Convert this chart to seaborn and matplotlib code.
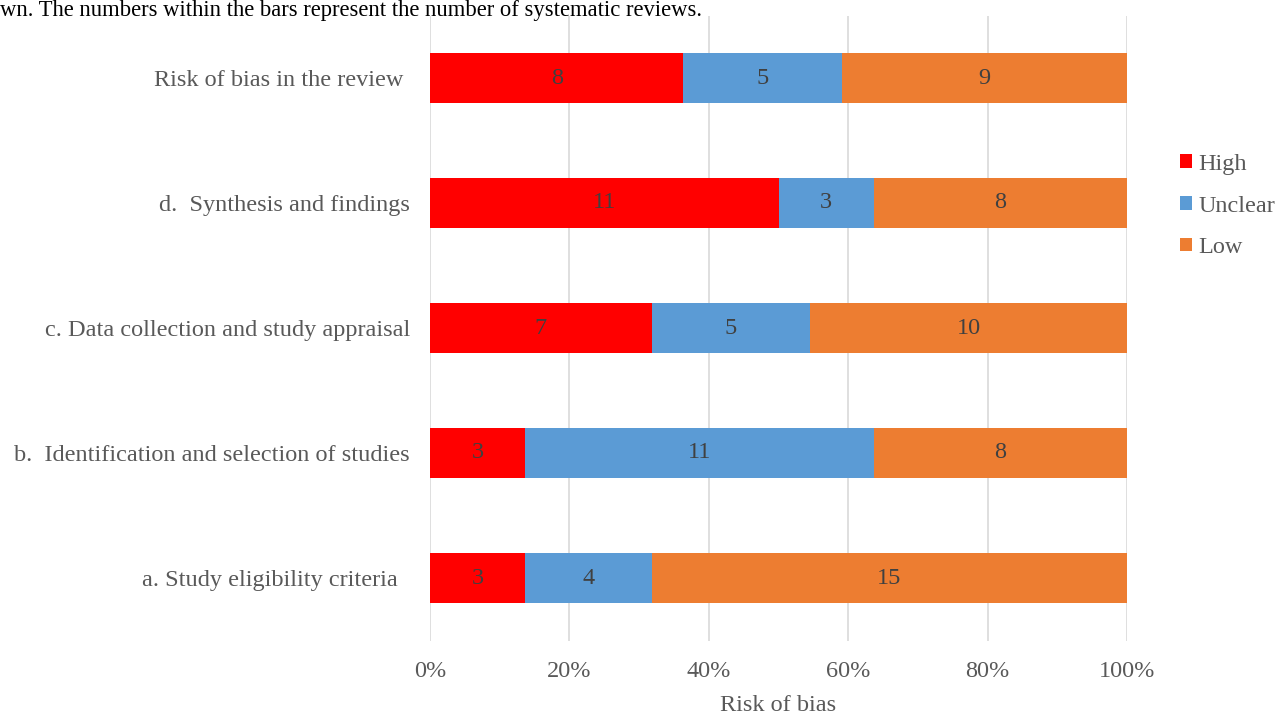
import matplotlib
matplotlib.use("Agg")
import matplotlib.pyplot as plt
import seaborn as sns
import numpy as np
import pandas as pd
from matplotlib.patches import Patch
from matplotlib.ticker import PercentFormatter

categories = [
    "Risk of bias in the review ",
    "d.  Synthesis and findings",
    "c. Data collection and study appraisal",
    "b.  Identification and selection of studies",
    "a. Study eligibility criteria  ",
]
high = [8, 11, 7, 3, 3]
unclear = [5, 3, 5, 11, 4]
low = [9, 8, 10, 8, 15]
series_names = ["High", "Unclear", "Low"]
colors = ["#FF0000", "#5B9BD5", "#ED7D31"]
xticks = [0, 20, 40, 60, 80, 100]
caption = "wn. The numbers within the bars represent the number of systematic reviews."

FS = 17.5

sns.set_theme(style="white")
plt.rcParams["font.family"] = ["Liberation Serif", "DejaVu Serif"]

counts = np.array([high, unclear, low], dtype=float)
totals = counts.sum(axis=0)
pct = counts / totals * 100
cum = np.cumsum(pct, axis=0)

fig = plt.figure(figsize=(12.77, 7.16), dpi=100)
ax = fig.add_axes([430 / 1277, 1 - 640.5 / 716, 697 / 1277, 625 / 716])

# draw cumulative bars from back to front
for i in [2, 1, 0]:
    df = pd.DataFrame({"cat": categories, "val": cum[i]})
    sns.barplot(data=df, x="val", y="cat", orient="h", color=colors[i],
                saturation=1, width=0.4, ax=ax, zorder=3, linewidth=0)

for i in range(3):
    starts = cum[i] - pct[i]
    for j, cat in enumerate(categories):
        ax.text(starts[j] + pct[i][j] / 2, j, f"{int(counts[i][j])}",
                ha="center", va="center", fontsize=FS, color="#404040", zorder=5)

ax.set_xlim(0, 100)
ax.set_ylim(4.5, -0.5)
ax.set_xticks(xticks)
ax.xaxis.set_major_formatter(PercentFormatter(decimals=0))
ax.grid(axis="x", color="#D9D9D9", linewidth=1.2, zorder=0)
ax.grid(axis="y", visible=False)
for s in ax.spines.values():
    s.set_visible(False)
ax.tick_params(axis="both", length=0, colors="#595959", labelsize=FS)
ax.tick_params(axis="y", pad=14.5)
ax.tick_params(axis="x", pad=15)
ax.set_ylabel("")
ax.set_xlabel("Risk of bias", fontsize=FS, color="#595959", labelpad=9)

handles = [Patch(facecolor=c, edgecolor="none") for c in colors]
leg = fig.legend(handles, series_names, loc="center left",
                 bbox_to_anchor=(1180 / 1277, 1 - 206 / 716), frameon=False,
                 fontsize=FS, handlelength=0.5, handleheight=0.5,
                 handletextpad=0.25, labelspacing=0.85, borderpad=0,
                 borderaxespad=0, labelcolor="#595959")

fig.text(0.0, 1.0, caption, ha="left", va="top", fontsize=16.3, color="black")

fig.savefig("out.png", dpi=100)
